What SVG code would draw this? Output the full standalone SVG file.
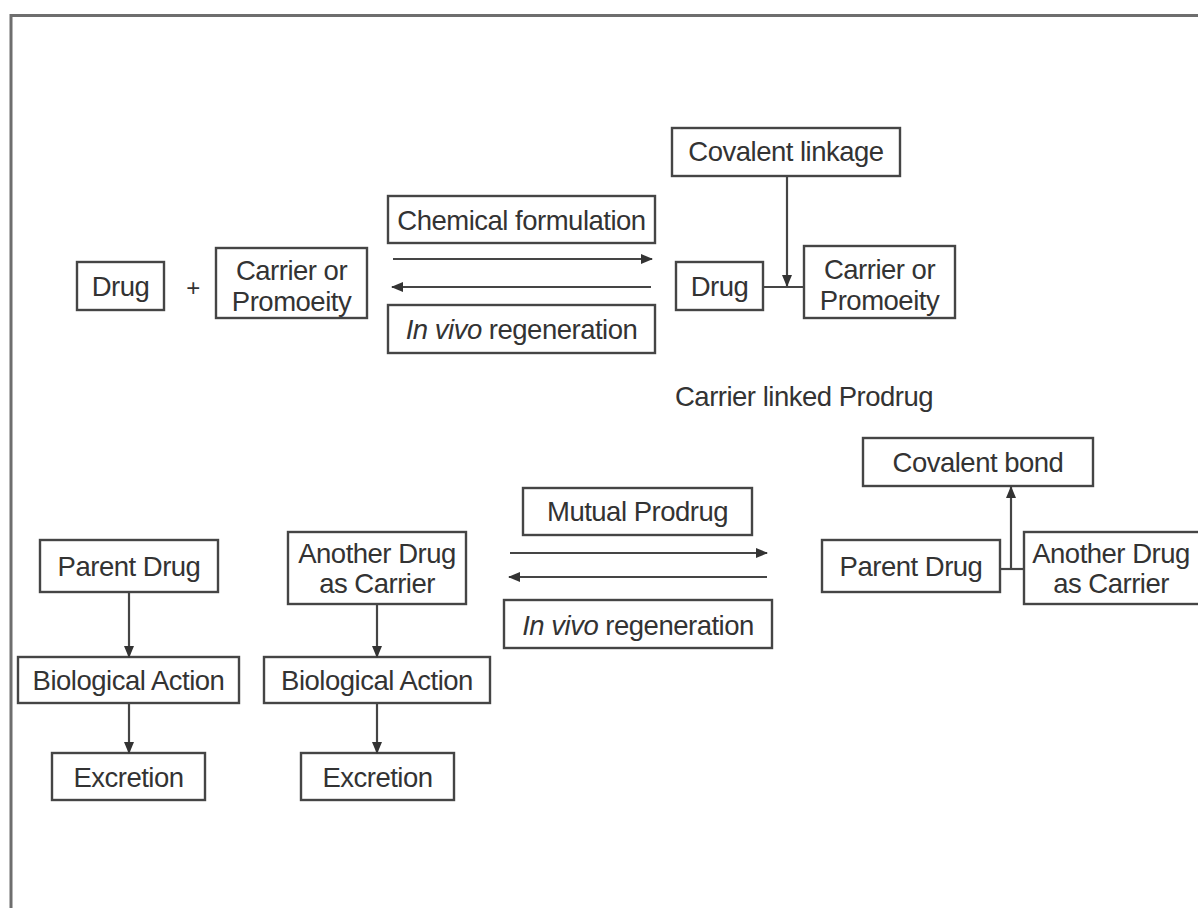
<svg xmlns="http://www.w3.org/2000/svg" width="1198" height="908" viewBox="0 0 1198 908">
<style>
.box{fill:#fff;stroke:#454545;stroke-width:2.4}
.t{font-family:"Liberation Sans",Arial,sans-serif;font-size:27.5px;letter-spacing:-0.5px;fill:#333;text-anchor:middle}
.ln{stroke:#454545;stroke-width:2.2;fill:none}
.frame{stroke:#6e6e6e;stroke-width:3;fill:none}
</style>
<defs>
<marker id="ah" markerWidth="12" markerHeight="11" refX="11" refY="5.5" orient="auto" markerUnits="userSpaceOnUse">
<path d="M0,0.5 L12,5.5 L0,10.5 Z" fill="#333"/>
</marker>
</defs>
<rect width="1198" height="908" fill="#fff"/>
<path class="frame" d="M11,920 V15.5 H1210"/>

<g id="drug1"><rect class="box" x="77" y="262" width="87" height="48"/><text class="t" x="120.5" y="296">Drug</text></g>
<text class="t" x="193" y="296" style="font-size:24px">+</text>
<g id="carrier1"><rect class="box" x="216" y="248" width="151" height="70"/><text class="t" x="291.5" y="280">Carrier or</text><text class="t" x="291.5" y="311">Promoeity</text></g>
<g id="chemform"><rect class="box" x="388" y="196" width="267" height="47"/><text class="t" x="521.5" y="230">Chemical formulation</text></g>
<g id="invivo1"><rect class="box" x="388" y="305" width="267" height="48"/><text class="t" x="521.5" y="339"><tspan font-style="italic">In vivo</tspan> regeneration</text></g>
<g id="covlink"><rect class="box" x="672" y="128" width="228" height="48"/><text class="t" x="786" y="161">Covalent linkage</text></g>
<g id="drug2"><rect class="box" x="676" y="262" width="87" height="48"/><text class="t" x="719.5" y="296">Drug</text></g>
<g id="carrier2"><rect class="box" x="804" y="246" width="151" height="72"/><text class="t" x="879.5" y="279">Carrier or</text><text class="t" x="879.5" y="310">Promoeity</text></g>
<text class="t" x="804" y="406">Carrier linked Prodrug</text>

<g id="covbond"><rect class="box" x="863" y="438" width="230" height="48"/><text class="t" x="978" y="472">Covalent bond</text></g>
<g id="parent2"><rect class="box" x="822" y="540" width="178" height="52"/><text class="t" x="911" y="576">Parent Drug</text></g>
<g id="another2"><rect class="box" x="1024" y="532" width="180" height="72"/><text class="t" x="1111" y="563">Another Drug</text><text class="t" x="1111" y="593">as Carrier</text></g>
<g id="mutual"><rect class="box" x="523" y="488" width="229" height="47"/><text class="t" x="637.5" y="521">Mutual Prodrug</text></g>
<g id="invivo2"><rect class="box" x="504" y="600" width="268" height="48"/><text class="t" x="638" y="635"><tspan font-style="italic">In vivo</tspan> regeneration</text></g>

<g id="parent1"><rect class="box" x="40" y="540" width="178" height="52"/><text class="t" x="129" y="576">Parent Drug</text></g>
<g id="bio1"><rect class="box" x="18" y="657" width="221" height="46"/><text class="t" x="128.5" y="690">Biological Action</text></g>
<g id="excr1"><rect class="box" x="52" y="753" width="153" height="47"/><text class="t" x="128.5" y="787">Excretion</text></g>
<g id="another1"><rect class="box" x="288" y="532" width="178" height="72"/><text class="t" x="377" y="563">Another Drug</text><text class="t" x="377" y="593">as Carrier</text></g>
<g id="bio2"><rect class="box" x="264" y="657" width="226" height="46"/><text class="t" x="377" y="690">Biological Action</text></g>
<g id="excr2"><rect class="box" x="301" y="753" width="153" height="47"/><text class="t" x="377.5" y="787">Excretion</text></g>

<g id="connectors">
<line class="ln" x1="393" y1="259" x2="652" y2="259" marker-end="url(#ah)"/>
<line class="ln" x1="651" y1="287" x2="392" y2="287" marker-end="url(#ah)"/>
<line class="ln" x1="787" y1="176" x2="787" y2="286" marker-end="url(#ah)"/>
<line class="ln" x1="763" y1="287" x2="804" y2="287"/>
<line class="ln" x1="510" y1="553" x2="767" y2="553" marker-end="url(#ah)"/>
<line class="ln" x1="767" y1="577" x2="509" y2="577" marker-end="url(#ah)"/>
<line class="ln" x1="1000" y1="569" x2="1024" y2="569"/>
<line class="ln" x1="1011" y1="569" x2="1011" y2="487" marker-end="url(#ah)"/>
<line class="ln" x1="129" y1="592" x2="129" y2="657" marker-end="url(#ah)"/>
<line class="ln" x1="129" y1="703" x2="129" y2="753" marker-end="url(#ah)"/>
<line class="ln" x1="377" y1="604" x2="377" y2="657" marker-end="url(#ah)"/>
<line class="ln" x1="377" y1="703" x2="377" y2="753" marker-end="url(#ah)"/>
</g>
</svg>
